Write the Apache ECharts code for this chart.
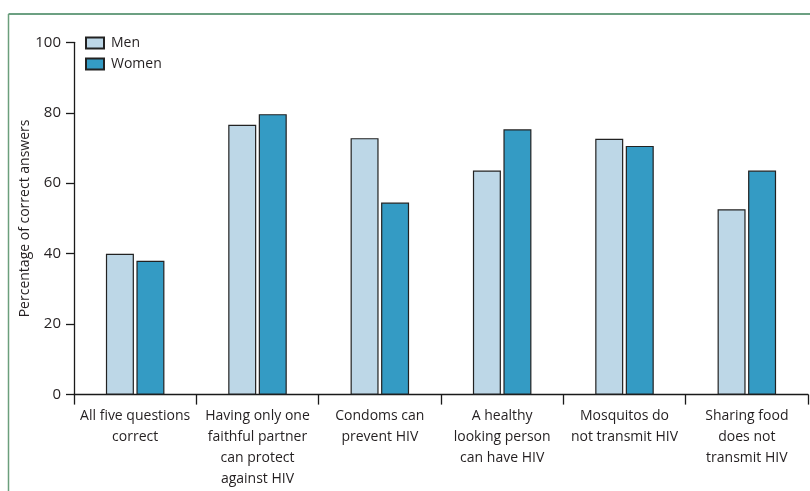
<!DOCTYPE html>
<html>
<head>
<meta charset="utf-8">
<script src="https://cdn.jsdelivr.net/npm/echarts@6/dist/echarts.min.js"></script>
<style>html,body{margin:0;padding:0;background:#fff;}#c{width:810px;height:491px;}</style>
</head>
<body>
<div id="c"></div>
<script>
const categories = [
  "All five questions\ncorrect",
  "Having only one\nfaithful partner\ncan protect\nagainst HIV",
  "Condoms can\nprevent HIV",
  "A healthy\nlooking person\ncan have HIV",
  "Mosquitos do\nnot transmit HIV",
  "Sharing food\ndoes not\ntransmit HIV"
];
const men = [40.0, 76.6, 72.8, 63.6, 72.6, 52.6];
const women = [38.0, 79.6, 54.5, 75.3, 70.6, 63.6];
const yTicks = { min: 0, max: 100, interval: 20 };

const font = "'Open Sans', 'Noto Sans', sans-serif";
const textColor = '#231f20';
const chart = echarts.init(document.getElementById('c'), null, { renderer: 'canvas' });
chart.setOption({
  animation: false,
  backgroundColor: '#fff',
  textStyle: { fontFamily: font, color: textColor },
  graphic: [
    { type: 'line', shape: { x1: 8.5, y1: 14, x2: 810, y2: 14 }, style: { stroke: '#3b8059', lineWidth: 1.5 } },
    { type: 'line', shape: { x1: 8.5, y1: 14, x2: 8.5, y2: 491 }, style: { stroke: '#6b9f7c', lineWidth: 1.5 } }
  ],
  legend: {
    orient: 'vertical',
    left: 80,
    top: 31,
    itemWidth: 18,
    itemHeight: 11,
    itemGap: 7,
    icon: 'rect',
    textStyle: { fontFamily: font, fontSize: 14, lineHeight: 11, color: textColor, padding: [0, 0, 0, 2] },
    data: ['Men', 'Women']
  },
  grid: { left: 74, right: 2, top: 42.3, bottom: 96.4, containLabel: false },
  xAxis: {
    type: 'category',
    data: categories,
    boundaryGap: true,
    axisLine: { lineStyle: { color: '#1a1a1a', width: 1.3 } },
    axisTick: { show: true, length: 10, inside: false, alignWithLabel: false, lineStyle: { color: '#1a1a1a', width: 1.3 } },
    axisLabel: { interval: 0, margin: 11, fontSize: 14, lineHeight: 21, color: textColor, fontFamily: font, align: 'center' }
  },
  yAxis: {
    type: 'value',
    min: yTicks.min,
    max: yTicks.max,
    interval: yTicks.interval,
    name: 'Percentage of correct answers',
    nameLocation: 'middle',
    nameGap: 42,
    nameMoveOverlap: false,
    nameRotate: 90,
    nameTextStyle: { fontSize: 14, color: textColor, fontFamily: font },
    splitLine: { show: false },
    axisLine: { show: true, lineStyle: { color: '#1a1a1a', width: 1.3 } },
    axisTick: { show: true, length: 8, inside: false, lineStyle: { color: '#1a1a1a', width: 1.3 } },
    axisLabel: { margin: 13, fontSize: 15, color: textColor, fontFamily: font }
  },
  series: [
    {
      name: 'Men', type: 'bar', data: men, barWidth: 28, barGap: '9%',
      itemStyle: { color: '#bdd7e7', borderColor: '#222', borderWidth: 1.2 }
    },
    {
      name: 'Women', type: 'bar', data: women, barWidth: 28,
      itemStyle: { color: '#349bc4', borderColor: '#222', borderWidth: 1.2 }
    }
  ]
});
</script>
</body>
</html>
